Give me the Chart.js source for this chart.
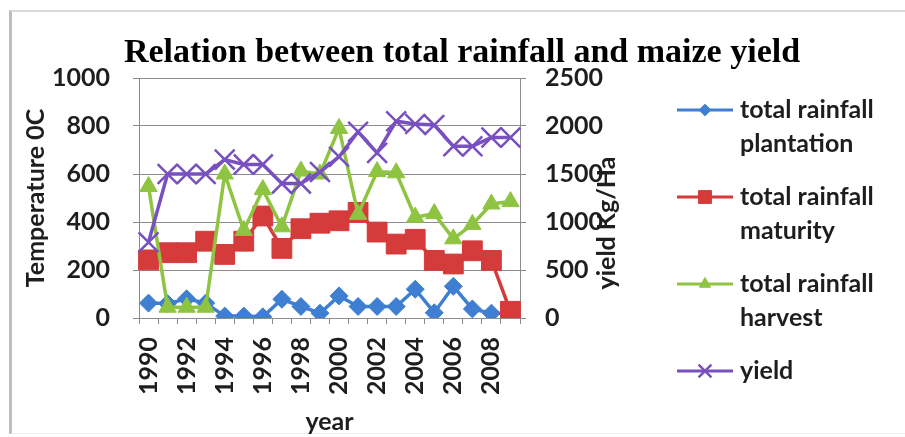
<!DOCTYPE html>
<html>
<head>
<meta charset="utf-8">
<script src="https://cdn.jsdelivr.net/npm/chart.js@4"></script>
<style>
  html, body { margin: 0; padding: 0; background: #fff; }
  #wrap { position: relative; width: 905px; height: 437px; }
  #frame { position: absolute; left: 9px; top: 10px; width: 893px; height: 421px;
           border-left: 3px solid #bdbdbd; border-top: 2px solid #d9d9d9; border-bottom: 1px solid #ececec; }
  canvas { position: absolute; left: 0; top: 0; }
</style>
</head>
<body>
<div id="wrap">
  <div id="frame"></div>
  <canvas id="rainChart" width="905" height="437"></canvas>
</div>
<script>
const years = ['1990', '1991', '1992', '1993', '1994', '1995', '1996', '1997', '1998', '1999',
               '2000', '2001', '2002', '2003', '2004', '2005', '2006', '2007', '2008', '2009'];

// rainfall totals (left axis)
const plantation = [62, 60, 80, 62, 8, 8, 5, 78, 48, 20, 92, 48, 48, 48, 120, 22, 132, 38, 20, 20];
const maturity   = [242, 272, 272, 320, 265, 320, 425, 290, 372, 395, 405, 440, 358, 308, 328, 240, 225, 280, 240, 28];
const harvest    = [548, 45, 45, 45, 600, 365, 535, 380, 612, 600, 790, 432, 610, 605, 420, 435, 330, 390, 475, 485];

// maize yield (right axis)
const yieldKg = [790, 1500, 1500, 1500, 1650, 1600, 1600, 1400, 1400, 1520, 1680, 1940, 1720, 2050, 2020, 2010, 1790, 1790, 1880, 1880];

const titleText = 'Relation between total rainfall and maize yield';
const font = 'Lato';
const textFont = { family: font, size: 25, weight: 'bold' };
const textCss = 'bold 25px ' + font;
const textColor = '#1e1e1e';

function series(label, data, color, style, radius, axis, order) {
  return {
    label: label,
    data: data,
    yAxisID: axis,
    order: order,
    borderColor: color,
    backgroundColor: color,
    borderWidth: 3.5,
    pointStyle: style,
    pointRadius: radius,
    pointHoverRadius: radius,
    pointBackgroundColor: color,
    pointBorderColor: color,
    pointBorderWidth: style === 'crossRot' ? 2.5 : 1,
    tension: 0
  };
}

// title, right axis caption and the two-line legend
const extras = {
  id: 'extras',
  afterDraw(chart) {
    const ctx = chart.ctx;
    ctx.save();
    ctx.fillStyle = '#000';
    ctx.textAlign = 'center';
    ctx.textBaseline = 'middle';
    ctx.font = 'bold 34px "Liberation Serif"';
    ctx.fillText(titleText, 462, 53);

    ctx.translate(607, 223);
    ctx.rotate(-Math.PI / 2);
    ctx.fillStyle = textColor;
    ctx.font = textCss;
    ctx.fillText('yield Kg/Ha', 0, 0);
    ctx.restore();

    chart.data.datasets.forEach((ds, i) => {
      const y = 110 + i * 87;
      ctx.save();
      ctx.strokeStyle = ds.borderColor;
      ctx.lineWidth = 3;
      ctx.beginPath();
      ctx.moveTo(677, y);
      ctx.lineTo(733, y);
      ctx.stroke();
      ctx.fillStyle = ds.pointBackgroundColor;
      ctx.strokeStyle = ds.pointBorderColor;
      ctx.lineWidth = ds.pointBorderWidth;
      Chart.helpers.drawPoint(ctx, {
        pointStyle: ds.pointStyle,
        radius: ds.pointRadius * 0.65,
        rotation: 0,
        borderWidth: ds.pointBorderWidth
      }, 705, y);

      const lines = ds.label.startsWith('total rainfall ')
        ? ['total rainfall', ds.label.slice(15)]
        : [ds.label];
      ctx.fillStyle = textColor;
      ctx.font = textCss;
      ctx.textAlign = 'left';
      ctx.textBaseline = 'middle';
      lines.forEach((t, k) => ctx.fillText(t, 740, y + k * 34));
      ctx.restore();
    });
  }
};

const ctx = document.getElementById('rainChart').getContext('2d');
const rainChart = new Chart(ctx, {
  type: 'line',
  data: {
    labels: years,
    datasets: [
      series('total rainfall plantation', plantation, '#3f7fd2', 'rectRot', 9, 'y', 4),
      series('total rainfall maturity', maturity, '#d53b3b', 'rect', 14, 'y', 3),
      series('total rainfall harvest', harvest, '#8fc442', 'triangle', 10, 'y', 2),
      series('yield', yieldKg, '#7850bf', 'crossRot', 14, 'y1', 1)
    ]
  },
  options: {
    responsive: false,
    animation: false,
    layout: { padding: { top: 78, left: 12, right: 0, bottom: 0 } },
    plugins: {
      legend: { display: false },
      title: { display: false },
      tooltip: { enabled: false }
    },
    scales: {
      x: {
        afterFit: s => { s.height = 119; },
        offset: true,
        border: { display: true, color: '#8c8c8c', width: 1 },
        grid: { offset: true, drawOnChartArea: false, drawTicks: true, tickLength: 6, color: '#8c8c8c' },
        ticks: {
          autoSkip: false,
          minRotation: 90,
          maxRotation: 90,
          padding: 13,
          color: textColor,
          font: textFont,
          callback: function (v, i) { return i % 2 === 0 ? this.getLabelForValue(v) : ''; }
        },
        title: {
          display: true,
          text: 'year',
          color: textColor,
          padding: 0,
          font: textFont
        }
      },
      y: {
        position: 'left',
        min: 0,
        max: 1000,
        afterFit: s => { s.width = 127; },
        border: { display: true, color: '#8c8c8c', width: 1 },
        grid: { color: '#8c8c8c', lineWidth: 1, drawTicks: true, tickLength: 6 },
        ticks: {
          stepSize: 200,
          padding: 23,
          color: textColor,
          format: { useGrouping: false },
          font: textFont
        },
        title: {
          display: true,
          text: 'Temperature 0C',
          color: textColor,
          padding: { top: 9, bottom: 0 },
          font: textFont
        }
      },
      y1: {
        position: 'right',
        min: 0,
        max: 2500,
        afterFit: s => { s.width = 385; },
        border: { display: true, color: '#8c8c8c', width: 1 },
        grid: { drawOnChartArea: false, drawTicks: true, tickLength: 6, color: '#8c8c8c' },
        ticks: {
          stepSize: 500,
          padding: 19,
          color: textColor,
          format: { useGrouping: false },
          font: textFont
        }
      }
    }
  },
  plugins: [extras]
});
</script>
</body>
</html>
